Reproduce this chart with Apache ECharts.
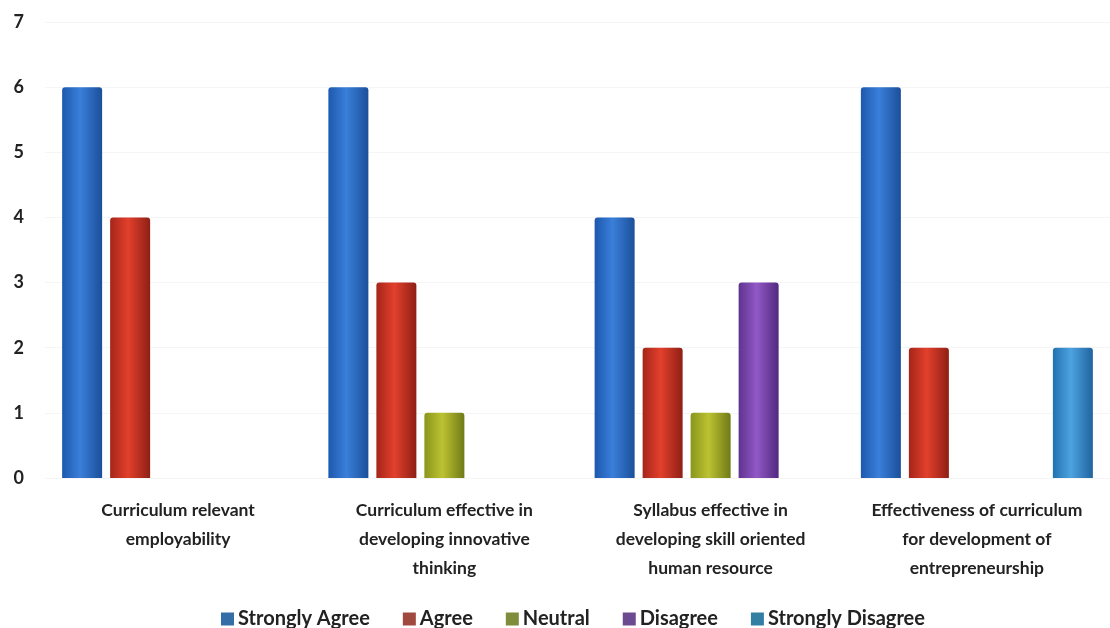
<!DOCTYPE html>
<html><head><meta charset="utf-8">
<script src="https://cdn.jsdelivr.net/npm/echarts@6/dist/echarts.min.js"></script>
<style>html,body{margin:0;padding:0;background:#fff}#c{width:1110px;height:628px}</style>
</head><body><div id="c"></div>
<script>
const categories = [
  "Curriculum relevant\nemployability",
  "Curriculum effective in\ndeveloping innovative\nthinking",
  "Syllabus effective in\ndeveloping skill oriented\nhuman resource",
  "Effectiveness of curriculum\nfor development of\nentrepreneurship"
];
const seriesNames = ["Strongly Agree", "Agree", "Neutral", "Disagree", "Strongly Disagree"];
const stronglyAgree = [6, 6, 4, 6];
const agree = [4, 3, 2, 2];
const neutral = [null, 1, 1, null];
const disagree = [null, null, 3, null];
const stronglyDisagree = [null, null, null, 2];
const values = [stronglyAgree, agree, neutral, disagree, stronglyDisagree];

const barColors = [
  ["#1d58ad", "#3a7fda", "#1b4f9a"],
  ["#a5251a", "#e2402c", "#8e1f14"],
  ["#8a961c", "#bcc232", "#6f7a16"],
  ["#5f3390", "#9158c6", "#52297e"],
  ["#2372b0", "#4da2e0", "#1f64a0"]
];
const legendColors = ["#336fa6", "#a0493f", "#7f8c3c", "#6c4a8f", "#327fa3"];

function grad(c) {
  return new echarts.graphic.LinearGradient(0, 0, 1, 0, [
    {offset: 0, color: c[0]}, {offset: 0.45, color: c[1]}, {offset: 1, color: c[2]}
  ]);
}

const chart = echarts.init(document.getElementById('c'));
chart.setOption({
  animation: false,
  backgroundColor: '#fff',
  textStyle: {fontFamily: 'Lato'},
  grid: {left: 45, top: 22, width: 1072, height: 456},
  legend: {
    top: 604, left: 216, itemWidth: 13, itemHeight: 13, itemGap: 33,
    textStyle: {fontSize: 20, fontWeight: 'bold', color: '#222', fontFamily: 'Lato', padding: [0, 0, 0, -1]},
    data: seriesNames.map((n, i) => ({name: n, icon: 'rect', itemStyle: {color: legendColors[i]}}))
  },
  xAxis: {
    type: 'category', data: categories,
    axisLine: {show: false}, axisTick: {show: false},
    axisLabel: {fontSize: 17.5, fontWeight: 'bold', color: '#222', lineHeight: 29, margin: 18, interval: 0, fontFamily: 'Lato'}
  },
  yAxis: {
    type: 'value', min: 0, max: 7, interval: 1,
    axisLine: {show: false}, axisTick: {show: false},
    splitLine: {show: true, lineStyle: {color: '#f5f5f5'}},
    axisLabel: {fontSize: 18, fontWeight: 'bold', color: '#222', margin: 21, fontFamily: 'Lato'}
  },
  series: seriesNames.map((n, i) => ({
    name: n, type: 'bar', data: values[i], barWidth: 40, barGap: '20%',
    itemStyle: {color: grad(barColors[i]), borderRadius: [3, 3, 0, 0]}
  }))
});
</script></body></html>
